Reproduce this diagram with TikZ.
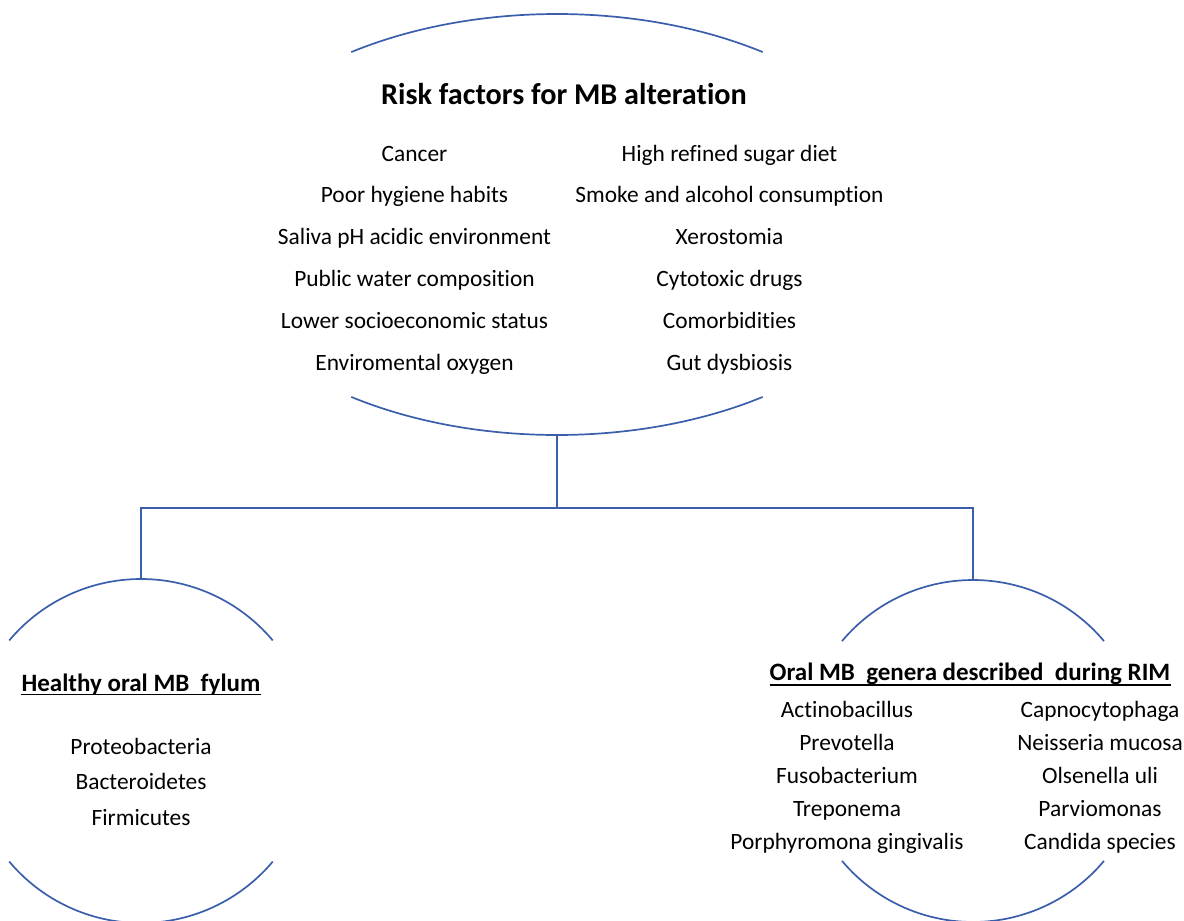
\documentclass[tikz,border=0pt]{standalone}
\usepackage{fontspec}
\setmainfont{Carlito}[Ligatures=NoCommon]
\definecolor{lineblue}{RGB}{58,94,172}
\begin{document}
\begin{tikzpicture}[x=1pt,y=-1pt,
  conn/.style={draw=lineblue,line width=1.7pt},
  item/.style={anchor=base,inner sep=0pt,font=\fontsize{23.4}{28}\selectfont},
  heading/.style={anchor=base,inner sep=0pt,font=\fontsize{25}{30}\selectfont\bfseries},
  ulinestyle/.style={draw=black,line width=1.3pt}]
\useasboundingbox (0,0) rectangle (1184,921);
% big top ellipse arcs
\coordinate (ec) at (557,224.5);
\draw[conn] (ec) ++(55:358.6pt and 210.5pt) arc[start angle=55,end angle=125,x radius=358.6pt,y radius=210.5pt];
\draw[conn] (ec) ++(235:358.6pt and 210.5pt) arc[start angle=235,end angle=305,x radius=358.6pt,y radius=210.5pt];
\coordinate (ebot) at (557,435);
% circles
\coordinate (lc) at (141,751);
\coordinate (rc) at (973,751);
\draw[conn] (lc) ++(40:172pt) arc[start angle=40,end angle=140,radius=172pt];
\draw[conn] (lc) ++(220:172pt) arc[start angle=220,end angle=320,radius=172pt];
\draw[conn] (rc) ++(40:171pt) arc[start angle=40,end angle=140,radius=171pt];
\draw[conn] (rc) ++(220:171pt) arc[start angle=220,end angle=320,radius=171pt];
\coordinate (ltop) at (141,579);
\coordinate (rtop) at (973,580);
\coordinate (bus) at (557,508);
% connectors
\draw[conn] (ebot) -- (bus);
\draw[conn] (ltop) |- (bus) -| (rtop);
% title
\node[anchor=base,inner sep=0pt,font=\fontsize{30.2}{36}\selectfont\bfseries] (title) at (564,104) {Risk factors for MB alteration};
% left column
\foreach \t [count=\i from 0] in {Cancer,Poor hygiene habits,Saliva pH acidic environment,Public water composition,Lower socioeconomic status,Enviromental oxygen}
  \node[item] (l\i) at (414.5,161+41.8*\i) {\t};
\foreach \t [count=\i from 0] in {High refined sugar diet,Smoke and alcohol consumption,Xerostomia,Cytotoxic drugs,Comorbidities,Gut dysbiosis}
  \node[item] (r\i) at (729.5,161+41.8*\i) {\t};
% left circle
\node[heading] (hl) at (141,691) {Healthy oral MB~ fylum};
\draw[ulinestyle] ([yshift=-3.5pt]hl.base west) -- ([yshift=-3.5pt]hl.base east);
\foreach \t [count=\i from 0] in {Proteobacteria,Bacteroidetes,Firmicutes}
  \node[item] (hp\i) at (141,754.5+35.4*\i) {\t};
% right circle
\node[heading] (hr) at (970,680) {Oral MB~ genera described~ during RIM};
\draw[ulinestyle] ([yshift=-5pt]hr.base west) -- ([yshift=-5pt]hr.base east);
\foreach \t [count=\i from 0] in {Actinobacillus,Prevotella,Fusobacterium,Treponema,Porphyromona gingivalis}
  \node[item] (ga\i) at (847,717.7+33*\i) {\t};
\foreach \t [count=\i from 0] in {Capnocytophaga,Neisseria mucosa,Olsenella uli,Parviomonas,Candida species}
  \node[item] (gb\i) at (1100,717.7+33*\i) {\t};
\end{tikzpicture}
\end{document}
